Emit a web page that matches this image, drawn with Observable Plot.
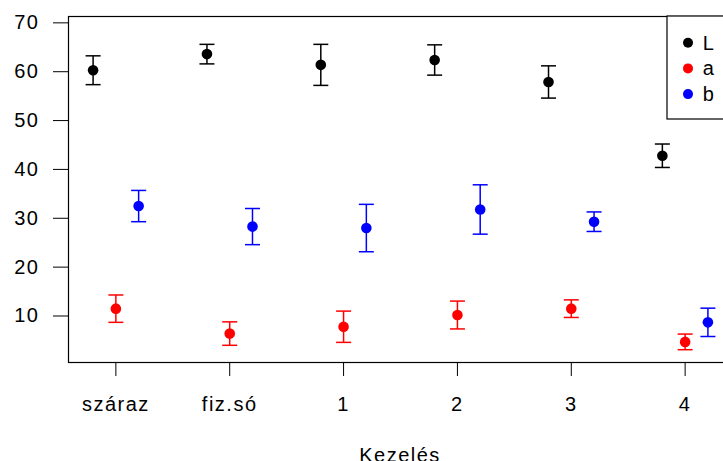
<!DOCTYPE html>
<html>
<head>
<meta charset="utf-8">
<script src="https://cdn.jsdelivr.net/npm/d3@7"></script>
<script src="https://cdn.jsdelivr.net/npm/@observablehq/plot@0.6"></script>
<style>
  html, body { margin: 0; padding: 0; width: 723px; height: 461px; overflow: hidden; background: white; }
  #chart { width: 740px; }
  svg { display: block; max-width: none !important; height: auto; }
</style>
</head>
<body>
<div id="chart"></div>
<script>
// ---- data ----
const categories = ["száraz", "fiz.só", "1", "2", "3", "4"];
const seriesNames = ["L", "a", "b"];
const seriesColors = ["black", "red", "blue"];
const L_mean = [60.3, 63.6, 61.4, 62.4, 57.9, 42.8];
const L_err  = [2.95, 2.0, 4.2, 3.1, 3.3, 2.4];
const a_mean = [11.5, 6.4, 7.8, 10.2, 11.5, 4.7];
const a_err  = [2.8, 2.4, 3.2, 2.85, 1.8, 1.6];
const b_mean = [32.5, 28.3, 28.0, 31.8, 29.3, 8.7];
const b_err  = [3.2, 3.7, 4.85, 5.05, 2.0, 2.9];
const yTicks = [10, 20, 30, 40, 50, 60, 70];
const xTitle = "Kezelés";

// ---- build table ----
const dodge = [-0.2, 0, 0.2];
const means = [L_mean, a_mean, b_mean];
const errs = [L_err, a_err, b_err];
const rows = [];
seriesNames.forEach((s, k) => {
  categories.forEach((c, i) => {
    const m = means[k][i], e = errs[k][i];
    rows.push({series: s, category: c, x: i + 1 + dodge[k], mean: m, lo: m - e, hi: m + e});
  });
});

// horizontal cap symbol (fixed pixel width)
const cap = {draw(ctx) { ctx.moveTo(-7.5, 0); ctx.lineTo(7.5, 0); }};

const W = 740, H = 470;
const plot = Plot.plot({
  width: W,
  height: H,
  marginLeft: 68,
  marginTop: 16,
  marginRight: 8,
  marginBottom: 108,
  style: {fontFamily: "'Liberation Sans', Arial, sans-serif", fontSize: "20px", background: "white", color: "black", letterSpacing: "1.5px", maxWidth: "none"},
  x: {domain: [0.584, 6.416]},
  y: {domain: [0.48, 71.3]},
  color: {domain: seriesNames, range: seriesColors},
  marks: [
    Plot.frame({stroke: "black", strokeWidth: 1.2}),
    Plot.axisY({ticks: yTicks, tickSize: 15, tickPadding: 14, label: null, fontSize: 20}),
    Plot.axisX({ticks: categories.map((c, i) => i + 1), tickFormat: d => categories[d - 1], tickSize: 14, tickPadding: 20, label: null, fontSize: 20}),
    Plot.link(rows, {x1: "x", x2: "x", y1: "lo", y2: "hi", stroke: "series", strokeWidth: 1.5}),
    Plot.dot(rows, {x: "x", y: "hi", symbol: cap, stroke: "series", fill: "none", strokeWidth: 1.5}),
    Plot.dot(rows, {x: "x", y: "lo", symbol: cap, stroke: "series", fill: "none", strokeWidth: 1.5}),
    Plot.dot(rows, {x: "x", y: "mean", r: 5.3, fill: "series", stroke: null})
  ]
});
document.getElementById("chart").appendChild(plot);

// ---- legend inside plot (top-right) and axis title ----
const svg = d3.select(plot);
const lg = svg.append("g");
lg.append("rect").attr("x", 667).attr("y", 16).attr("width", 100).attr("height", 103)
  .attr("fill", "white").attr("stroke", "black").attr("stroke-width", 1.2);
seriesNames.forEach((s, k) => {
  const cy = 42.7 + k * 25.7;
  lg.append("circle").attr("cx", 688).attr("cy", cy).attr("r", 5).attr("fill", seriesColors[k]);
  lg.append("text").attr("x", 709).attr("y", cy).attr("dy", "0.35em").attr("fill", "black").text(s);
});
svg.append("text").attr("x", 400).attr("y", 462).attr("text-anchor", "middle").attr("fill", "black").text(xTitle);
</script>
</body>
</html>
